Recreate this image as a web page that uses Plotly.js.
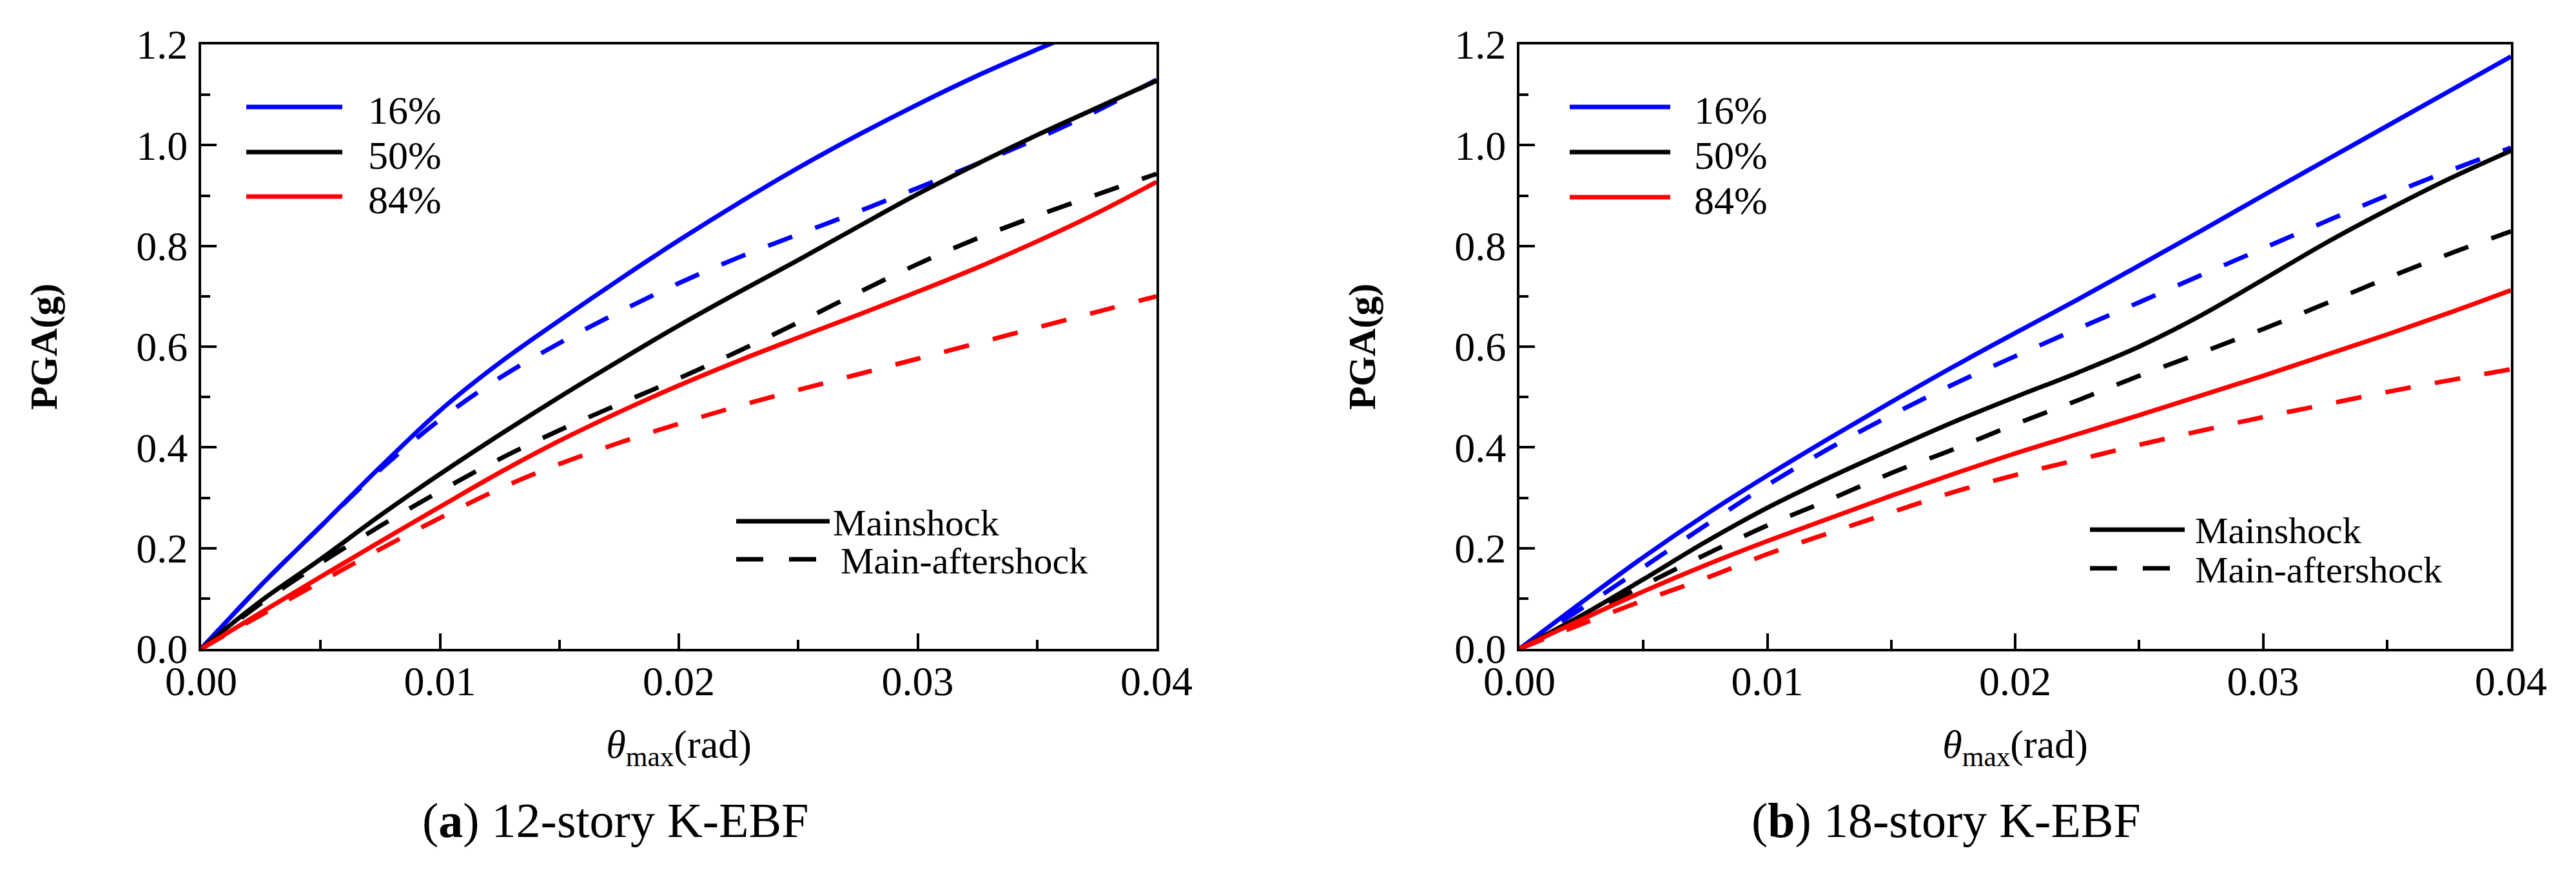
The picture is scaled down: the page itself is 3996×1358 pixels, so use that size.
<!DOCTYPE html>
<html>
<head>
<meta charset="utf-8">
<script src="https://cdn.plot.ly/plotly-3.0.1.min.js"></script>
<style>
  html, body { margin: 0; padding: 0; background: #fff; }
  #chart { width: 3996px; height: 1358px; }
</style>
</head>
<body>
<div id="chart"></div>
<script>
// drift ratio grid shared by every curve (rad)
var theta = [0, 0.0025, 0.005, 0.0075, 0.01, 0.0125, 0.015, 0.0175, 0.02,
             0.0225, 0.025, 0.0275, 0.03, 0.0325, 0.035, 0.0375, 0.04];

// (a) 12-story K-EBF, PGA(g)
var ms16_a = [0, 0.126, 0.243, 0.361, 0.473, 0.568, 0.652, 0.733, 0.811, 0.885, 0.955, 1.020, 1.081, 1.138, 1.190, 1.240, 1.288];
var ma16_a = [0, 0.126, 0.243, 0.356, 0.455, 0.538, 0.607, 0.669, 0.726, 0.777, 0.823, 0.868, 0.915, 0.963, 1.013, 1.068, 1.130];
var ms50_a = [0, 0.095, 0.178, 0.265, 0.347, 0.425, 0.500, 0.572, 0.642, 0.708, 0.772, 0.838, 0.903, 0.963, 1.020, 1.074, 1.128];
var ma50_a = [0, 0.090, 0.170, 0.244, 0.313, 0.377, 0.434, 0.486, 0.537, 0.591, 0.648, 0.707, 0.764, 0.815, 0.860, 0.902, 0.943];
var ms84_a = [0, 0.072, 0.143, 0.213, 0.282, 0.350, 0.413, 0.470, 0.523, 0.572, 0.618, 0.663, 0.709, 0.757, 0.809, 0.865, 0.927];
var ma84_a = [0, 0.067, 0.133, 0.198, 0.260, 0.318, 0.367, 0.409, 0.447, 0.482, 0.514, 0.545, 0.576, 0.607, 0.638, 0.669, 0.700];

// (b) 18-story K-EBF, PGA(g)
var ms16_b = [0, 0.092, 0.182, 0.266, 0.344, 0.418, 0.490, 0.560, 0.627, 0.693, 0.761, 0.830, 0.900, 0.969, 1.038, 1.107, 1.176];
var ma16_b = [0, 0.080, 0.162, 0.245, 0.325, 0.398, 0.464, 0.525, 0.581, 0.635, 0.688, 0.742, 0.795, 0.848, 0.900, 0.949, 0.995];
var ms50_b = [0, 0.066, 0.138, 0.212, 0.280, 0.340, 0.396, 0.450, 0.500, 0.548, 0.600, 0.662, 0.733, 0.805, 0.871, 0.933, 0.989];
var ma50_b = [0, 0.061, 0.126, 0.187, 0.245, 0.296, 0.349, 0.396, 0.446, 0.493, 0.542, 0.588, 0.635, 0.685, 0.736, 0.784, 0.829];
var ms84_b = [0, 0.058, 0.114, 0.166, 0.214, 0.259, 0.304, 0.347, 0.388, 0.426, 0.464, 0.503, 0.542, 0.583, 0.624, 0.667, 0.712];
var ma84_b = [0, 0.049, 0.096, 0.140, 0.188, 0.230, 0.271, 0.311, 0.345, 0.375, 0.405, 0.433, 0.460, 0.485, 0.510, 0.533, 0.555];

var levels = ['16%', '50%', '84%'];
var cases = ['Mainshock', 'Main-aftershock'];
var captions = ['(<b>a</b>) 12-story K-EBF', '(<b>b</b>) 18-story K-EBF'];

var W = 3996, H = 1358;
var blue = '#0000FF', black = '#000000', red = '#FF0000';
var dashed = '40px,38px';
var serif = '"Liberation Serif", "Times New Roman", serif';

function px(x) { return x / W; }
function py(y) { return 1 - y / H; }

function curve(y, color, dash, xa, ya) {
	return {
		x: theta, y: y, xaxis: xa, yaxis: ya,
		type: 'scatter', mode: 'lines',
		line: {color: color, width: 7, dash: dash, shape: 'spline', smoothing: 1},
		hoverinfo: 'skip'
	};
}

var data = [
	curve(ms16_a, blue, 'solid', 'x', 'y'),
	curve(ma16_a, blue, dashed, 'x', 'y'),
	curve(ms50_a, black, 'solid', 'x', 'y'),
	curve(ma50_a, black, dashed, 'x', 'y'),
	curve(ms84_a, red, 'solid', 'x', 'y'),
	curve(ma84_a, red, dashed, 'x', 'y'),
	curve(ms16_b, blue, 'solid', 'x2', 'y2'),
	curve(ma16_b, blue, dashed, 'x2', 'y2'),
	curve(ms50_b, black, 'solid', 'x2', 'y2'),
	curve(ma50_b, black, dashed, 'x2', 'y2'),
	curve(ms84_b, red, 'solid', 'x2', 'y2'),
	curve(ma84_b, red, dashed, 'x2', 'y2')
];

function xAxis(left, right, anchor) {
	return {
		domain: [px(left), px(right)], anchor: anchor,
		range: [0, 0.04], dtick: 0.01, tickformat: '.2f',
		showgrid: false, zeroline: false,
		showline: true, linewidth: 4, linecolor: black, mirror: true,
		ticks: 'inside', ticklen: 24, tickwidth: 4, tickcolor: black,
		minor: {ticks: 'inside', dtick: 0.005, ticklen: 14, tickwidth: 4, tickcolor: black, showgrid: false},
		tickfont: {family: serif, size: 64, color: black},
		ticklabelstandoff: -9,
		title: {text: '<i>θ</i><sub>max</sub>(rad)', font: {family: serif, size: 62, color: black}, standoff: 42},
		fixedrange: true
	};
}

function yAxis(anchor) {
	return {
		domain: [py(1007), py(69)], anchor: anchor,
		range: [0, 1.2], dtick: 0.2, tickformat: '.1f',
		showgrid: false, zeroline: false,
		showline: true, linewidth: 4, linecolor: black, mirror: true,
		ticks: 'inside', ticklen: 24, tickwidth: 4, tickcolor: black,
		minor: {ticks: 'inside', dtick: 0.1, ticklen: 14, tickwidth: 4, tickcolor: black, showgrid: false},
		tickfont: {family: serif, size: 64, color: black},
		ticklabelstandoff: 4,
		title: {text: '<b>PGA(g)</b>', font: {family: serif, size: 60, color: black}, standoff: 104},
		fixedrange: true
	};
}

var shapes = [], annotations = [];

// percentile legend (colour) and loading legend (dash), one set per panel
var panels = [
	{lineL: 382, lineR: 531, textX: 569, rows: [166, 236, 305],
	 caseL: 1142, caseR: 1287, caseText: 1290, caseRows: [809, 868], capX: 955},
	{lineL: 2435, lineR: 2591, textX: 2626, rows: [166, 236, 306],
	 caseL: 3242, caseR: 3389, caseText: 3403, caseRows: [822, 882], capX: 3019}
];
var levelColors = [blue, black, red];

panels.forEach(function(p, k) {
	levels.forEach(function(lab, i) {
		shapes.push({type: 'line', xref: 'paper', yref: 'paper',
			x0: px(p.lineL), x1: px(p.lineR), y0: py(p.rows[i]), y1: py(p.rows[i]),
			line: {color: levelColors[i], width: 7}});
		annotations.push({xref: 'paper', yref: 'paper', x: px(p.textX), y: py(p.rows[i] + 5),
			xanchor: 'left', yanchor: 'middle', showarrow: false, text: lab,
			font: {family: serif, size: 62, color: black}});
	});
	shapes.push({type: 'line', xref: 'paper', yref: 'paper',
		x0: px(p.caseL), x1: px(p.caseR), y0: py(p.caseRows[0]), y1: py(p.caseRows[0]),
		line: {color: black, width: 7}});
	shapes.push({type: 'line', xref: 'paper', yref: 'paper',
		x0: px(p.caseL), x1: px(p.caseR - 20), y0: py(p.caseRows[1]), y1: py(p.caseRows[1]),
		line: {color: black, width: 7, dash: '42px,40px'}});
	cases.forEach(function(lab, i) {
		annotations.push({xref: 'paper', yref: 'paper', x: px(p.caseText + (k === 0 ? i * 12 : 0)), y: py(p.caseRows[i] + 2),
			xanchor: 'left', yanchor: 'middle', showarrow: false, text: lab,
			font: {family: serif, size: 58, color: black}});
	});
	annotations.push({xref: 'paper', yref: 'paper', x: px(p.capX), y: py(1273),
		xanchor: 'center', yanchor: 'middle', showarrow: false, text: captions[k],
		font: {family: serif, size: 76, color: black}});
});

var layout = {
	width: W, height: H,
	margin: {l: 0, r: 0, t: 0, b: 0},
	paper_bgcolor: '#ffffff', plot_bgcolor: '#ffffff',
	showlegend: false,
	xaxis: xAxis(312, 1794, 'y'),
	yaxis: yAxis('x'),
	xaxis2: xAxis(2357, 3895, 'y2'),
	yaxis2: yAxis('x2'),
	shapes: shapes,
	annotations: annotations
};

Plotly.newPlot('chart', data, layout, {staticPlot: true, displayModeBar: false});
</script>
</body>
</html>
